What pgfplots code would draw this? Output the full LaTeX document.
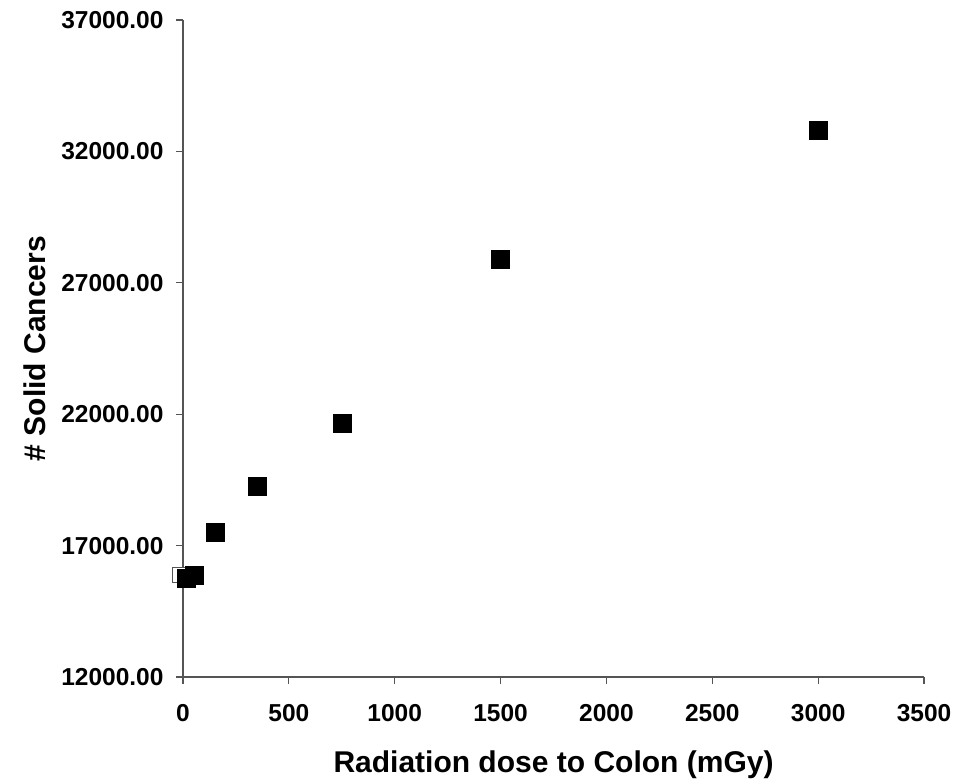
\documentclass[border=0pt]{standalone}
\usepackage{pgfplots}
\pgfplotsset{compat=1.18}
\usepackage{fontspec}
\setmainfont{Liberation Sans}
\definecolor{axgray}{HTML}{555555}
\begin{document}
\begin{tikzpicture}
\useasboundingbox (-183pt,-102pt) rectangle (780pt,677pt);
\begin{axis}[
  at={(0,0)}, anchor=south west,
  scale only axis, width=741pt, height=657pt,
  xmin=0, xmax=3500, ymin=12000, ymax=37000,
  axis lines=left,
  axis line style={axgray, line width=1.4pt, -},
  xtick={0,500,...,3500},
  ytick={12000,17000,...,37000},
  tick align=outside,
  major tick length=7pt,
  tick style={axgray, line width=1.1pt},
  clip=false,
  /pgf/number format/assume math mode=true,
  ticklabel style={font=\fontsize{24.5}{26}\selectfont\bfseries},
  xticklabel style={/pgf/number format/1000 sep={}, yshift=-17pt},
  yticklabel style={xshift=-9pt, /pgf/number format/fixed, /pgf/number format/fixed zerofill, /pgf/number format/precision=2, /pgf/number format/1000 sep={}},
  scaled y ticks=false,
  xlabel={Radiation dose to Colon (mGy)},
  ylabel={\# Solid Cancers},
  label style={font=\fontsize{30}{34}\selectfont\bfseries},
  x label style={at={(axis description cs:0.5,-0.134)}, anchor=center},
  y label style={at={(axis description cs:-0.2,0.5)}, anchor=center, rotate=0},
]
\addplot[only marks, mark=square*, mark size=7.5pt, mark options={draw=axgray, fill=white, line width=1pt}]
coordinates {(-14,15880)};
\addplot[only marks, mark=square*, mark size=9pt, mark options={draw=black, fill=black}]
coordinates {
(15,15770)
(55,15860)
(150,17520)
(350,19270)
(750,21670)
(1500,27900)
(3000,32810)
};
\end{axis}
\end{tikzpicture}
\end{document}
